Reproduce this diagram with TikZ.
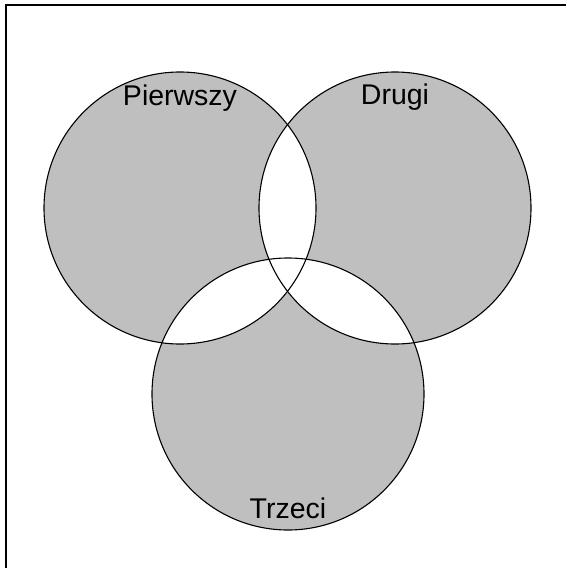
\documentclass[tikz,border=0pt]{standalone}
\usepackage{fontspec}
\setmainfont{Liberation Sans}
\definecolor{venngray}{RGB}{191,191,191}
\begin{document}
\begin{tikzpicture}[x=1pt,y=-1pt,
  ring/.style={draw=black,line width=1.1pt},
  frame/.style={draw=black,line width=1.5pt},
  lbl/.style={anchor=base,inner sep=0pt,font=\fontsize{28.5}{34}\selectfont}]
\useasboundingbox (0,0) rectangle (566,568);
\coordinate (A) at (180,208);
\coordinate (B) at (395,208);
\coordinate (C) at (288,394);
\def\R{136}
\fill[venngray] (A) circle[radius=\R] (B) circle[radius=\R] (C) circle[radius=\R];
\begin{scope}
  \clip (A) circle[radius=\R];
  \fill[white] (B) circle[radius=\R] (C) circle[radius=\R];
\end{scope}
\begin{scope}
  \clip (B) circle[radius=\R];
  \fill[white] (C) circle[radius=\R];
\end{scope}
\draw[ring] (A) circle[radius=\R];
\draw[ring] (B) circle[radius=\R];
\draw[ring] (C) circle[radius=\R];
\node[lbl] (la) at (180,105) {Pierwszy};
\node[lbl] (lb) at (395,104) {Drugi};
\node[lbl] (lc) at (288,518) {Trzeci};
\coordinate (f1) at (6,568);
\coordinate (f2) at (6,5);
\coordinate (f3) at (566,5);
\draw[frame] (f1) -- (f2) -- (f3);
\end{tikzpicture}
\end{document}
